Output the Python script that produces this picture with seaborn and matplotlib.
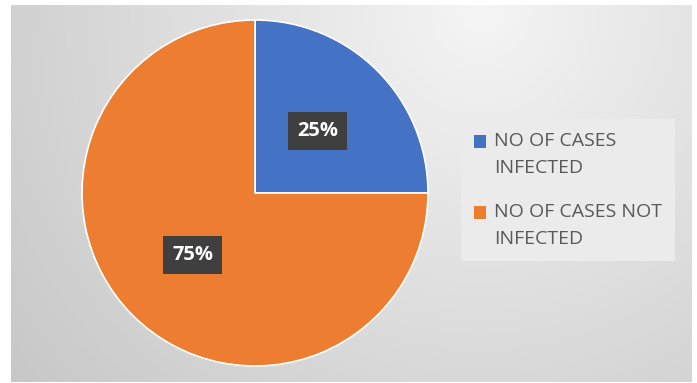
import numpy as np
import matplotlib.pyplot as plt
import seaborn as sns
from matplotlib.patches import Patch, Rectangle
from matplotlib.legend_handler import HandlerPatch

labels = ["NO OF CASES\nINFECTED", "NO OF CASES NOT\nINFECTED"]
values = [25, 75]
colors = ["#4472C4", "#ED7D31"]

sns.set_style("white")
plt.rcParams["font.family"] = ["Open Sans", "DejaVu Sans"]

W, H = 697, 383
fig = plt.figure(figsize=(W / 100, H / 100), dpi=100)
fig.patch.set_facecolor("white")

# grey gradient panel, light spot near the top, darker toward corners
x0, x1, y0, y1 = 11, 692, 5, 382
bg = fig.add_axes([x0 / W, (H - y1) / H, (x1 - x0) / W, (y1 - y0) / H])
py, px = np.mgrid[y0:y1, x0:x1]
d = np.sqrt((px - 480.0) ** 2 + (py - 10.0) ** 2)
v = np.clip(0.96 - 0.0003 * d, 0.78, 0.96)
bg.imshow(np.dstack([v, v, v]), aspect="auto", interpolation="bilinear")
bg.set_axis_off()

cx, cy, rad = 255, 193, 173
ax = fig.add_axes([(cx - rad) / W, (H - cy - rad) / H, 2 * rad / W, 2 * rad / H])
wedges, _, autotexts = ax.pie(
    values, colors=colors, startangle=90, counterclock=False,
    autopct="%1.0f%%", pctdistance=0.51,
    wedgeprops=dict(edgecolor="white", linewidth=1.2),
    textprops=dict(color="white", fontsize=14.5, fontweight="bold"),
)
for t in autotexts:
    t.set_bbox(dict(boxstyle="square,pad=0.45", facecolor="#3f3f3f",
                    edgecolor="none"))
ax.set_xlim(-1, 1)
ax.set_ylim(-1, 1)
ax.set_axis_off()


# put the legend square next to the first line of the wrapped label
def top_square(legend, orig_handle, xdescent, ydescent, width, height, fontsize):
    return Rectangle((-xdescent, -ydescent + 0.69 * fontsize), width, height)


handles = [Patch(facecolor=c, edgecolor="none") for c in colors]
leg = fig.legend(handles, labels, loc="center left",
                 bbox_to_anchor=(461 / W, 1 - 190 / H), frameon=True,
                 fontsize=14, labelcolor="#595959", handlelength=0.65,
                 handleheight=0.65, handletextpad=0.4, labelspacing=1.3,
                 borderpad=0.65, borderaxespad=0, fancybox=False,
                 framealpha=1,
                 handler_map={Patch: HandlerPatch(patch_func=top_square)})
for t in leg.get_texts():
    t.set_linespacing(1.7)
leg.get_frame().set_facecolor("#ebebeb")
leg.get_frame().set_edgecolor("none")

fig.savefig("out.png", dpi=100)
